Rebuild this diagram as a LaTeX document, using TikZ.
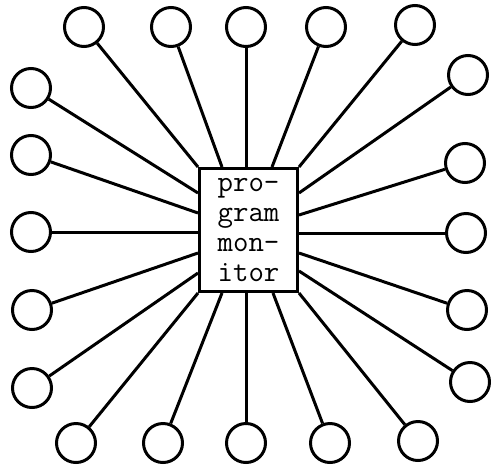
\documentclass[tikz,border=0pt]{standalone}

\begin{document}
\begin{tikzpicture}[
    x=0.5pt, y=-0.5pt,
    line width=1.5pt,
    font=\ttfamily,
    % one style for the outer stations, one for the monitor in the middle
    station/.style = {draw, circle, minimum size=19.5pt, inner sep=0pt},
    monitor/.style = {draw, line width=1.9pt, minimum width=49pt, minimum height=61.5pt,
                      inner sep=0pt, align=left, font=\ttfamily\fontsize{15}{15}\selectfont},
  ]
  \useasboundingbox (0,0) rectangle (491,466);

  %% ---------- centre: the monitor ----------
  \node[monitor] (mon) at (248.5,230) {pro-\\gram\\mon-\\itor};

  %% ---------- stations: name / centre / point on the box ----------
  \foreach \n/\cx/\cy/\ax/\ay in {
    t1/84/27/198/167, t2/171/27/222/167, t3/246/27/246/167, t4/326/27/272/167, t5/415/25/299/167,
    r1/468/75/299/193, r2/465/163/299/215, r3/466/233/299/233, r4/467/310/299/253, r5/470/382/299/271,
    b1/76/443/198/293, b2/163/443/222/293, b3/246/443/246/293, b4/330/443/273/293, b5/418/441/299/293,
    l1/31/88/198/193, l2/31/155/198/213, l3/31/232/198/232, l4/32/310/198/253, l5/32/388/198/273
  } {
    \coordinate (a\n) at (\ax,\ay);
    \node[station] (s\n) at (\cx,\cy) {};
    \draw (a\n) -- (s\n);
  }
\end{tikzpicture}
\end{document}
